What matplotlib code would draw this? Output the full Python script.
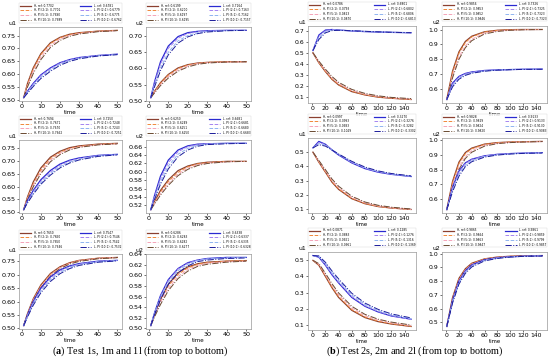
import matplotlib
matplotlib.use("Agg")
import matplotlib.pyplot as plt
from matplotlib.ticker import MultipleLocator

W, H = 550, 363

# time grids
t_a = [1, 3, 6, 10, 15, 20, 25, 30, 40, 50]
t_b = [1, 10, 20, 30, 40, 60, 80, 100, 120, 150]

# curve order in every panel: H ref, H PI(2:1), H PI(5:1), H PI(10:1), L ref, L PI(2:1), L PI(5:1), L PI(10:1)
test1s_u1_labels = ["H, ref: 0.7702", "H, PI (2:1): 0.7701", "H, PI (5:1): 0.7690", "H, PI (10:1): 0.7689",
                    "L, ref: 0.6781", "L, PI (2:1): 0.6779", "L, PI (5:1): 0.6775", "L, PI (10:1): 0.6762"]
test1s_u1 = [
    [0.510, 0.565, 0.625, 0.680, 0.722, 0.743, 0.755, 0.761, 0.767, 0.770],
    [0.510, 0.562, 0.620, 0.676, 0.719, 0.741, 0.754, 0.760, 0.767, 0.770],
    [0.510, 0.556, 0.611, 0.666, 0.711, 0.736, 0.750, 0.758, 0.766, 0.769],
    [0.510, 0.551, 0.603, 0.657, 0.704, 0.731, 0.747, 0.756, 0.765, 0.769],
    [0.510, 0.535, 0.565, 0.598, 0.625, 0.645, 0.657, 0.665, 0.673, 0.678],
    [0.510, 0.533, 0.562, 0.595, 0.622, 0.643, 0.656, 0.664, 0.673, 0.678],
    [0.510, 0.530, 0.557, 0.589, 0.617, 0.639, 0.653, 0.662, 0.672, 0.677],
    [0.510, 0.527, 0.553, 0.584, 0.612, 0.635, 0.650, 0.660, 0.671, 0.676],
]

test1s_u2_labels = ["H, ref: 0.6199", "H, PI (2:1): 0.6200", "H, PI (5:1): 0.6197", "H, PI (10:1): 0.6195",
                    "L, ref: 0.7164", "L, PI (2:1): 0.7163", "L, PI (5:1): 0.7162", "L, PI (10:1): 0.7157"]
test1s_u2 = [
    [0.510, 0.530, 0.556, 0.581, 0.601, 0.611, 0.616, 0.618, 0.620, 0.620],
    [0.510, 0.529, 0.554, 0.579, 0.599, 0.610, 0.615, 0.618, 0.620, 0.620],
    [0.510, 0.527, 0.550, 0.574, 0.595, 0.607, 0.614, 0.617, 0.619, 0.620],
    [0.510, 0.525, 0.547, 0.570, 0.591, 0.604, 0.612, 0.616, 0.619, 0.620],
    [0.510, 0.560, 0.620, 0.668, 0.697, 0.709, 0.713, 0.715, 0.716, 0.716],
    [0.510, 0.556, 0.613, 0.661, 0.692, 0.706, 0.712, 0.714, 0.716, 0.716],
    [0.510, 0.549, 0.601, 0.649, 0.684, 0.700, 0.709, 0.713, 0.715, 0.716],
    [0.510, 0.544, 0.593, 0.641, 0.677, 0.696, 0.706, 0.711, 0.715, 0.716],
]

test1m_u1_labels = ["H, ref: 0.7694", "H, PI (2:1): 0.7671", "H, PI (5:1): 0.7670", "H, PI (10:1): 0.7662",
                    "L, ref: 0.7250", "L, PI (2:1): 0.7248", "L, PI (5:1): 0.7243", "L, PI (10:1): 0.7251"]
test1m_u1 = [
    [0.510, 0.560, 0.618, 0.673, 0.715, 0.738, 0.752, 0.759, 0.766, 0.769],
    [0.510, 0.556, 0.611, 0.665, 0.709, 0.734, 0.749, 0.757, 0.765, 0.768],
    [0.510, 0.552, 0.605, 0.658, 0.703, 0.730, 0.746, 0.755, 0.764, 0.767],
    [0.510, 0.548, 0.599, 0.651, 0.697, 0.725, 0.743, 0.753, 0.763, 0.767],
    [0.510, 0.545, 0.585, 0.627, 0.663, 0.688, 0.703, 0.712, 0.722, 0.726],
    [0.510, 0.542, 0.580, 0.621, 0.657, 0.683, 0.700, 0.710, 0.721, 0.725],
    [0.510, 0.539, 0.575, 0.615, 0.651, 0.678, 0.696, 0.707, 0.720, 0.725],
    [0.510, 0.536, 0.570, 0.609, 0.645, 0.673, 0.692, 0.704, 0.718, 0.724],
]

test1m_u2_labels = ["H, ref: 0.6250", "H, PI (2:1): 0.6249", "H, PI (5:1): 0.6251", "H, PI (10:1): 0.6250",
                    "L, ref: 0.6681", "L, PI (2:1): 0.6681", "L, PI (5:1): 0.6680", "L, PI (10:1): 0.6683"]
test1m_u2 = [
    [0.510, 0.530, 0.556, 0.581, 0.603, 0.614, 0.620, 0.623, 0.625, 0.625],
    [0.510, 0.528, 0.552, 0.577, 0.599, 0.612, 0.619, 0.622, 0.625, 0.625],
    [0.510, 0.526, 0.548, 0.572, 0.595, 0.609, 0.617, 0.621, 0.624, 0.625],
    [0.510, 0.524, 0.545, 0.568, 0.591, 0.606, 0.615, 0.620, 0.624, 0.625],
    [0.510, 0.545, 0.590, 0.628, 0.652, 0.662, 0.666, 0.667, 0.668, 0.668],
    [0.510, 0.542, 0.584, 0.622, 0.648, 0.660, 0.665, 0.667, 0.668, 0.668],
    [0.510, 0.538, 0.577, 0.614, 0.642, 0.656, 0.663, 0.666, 0.668, 0.668],
    [0.510, 0.535, 0.571, 0.607, 0.636, 0.652, 0.661, 0.665, 0.667, 0.668],
]

test1l_u1_labels = ["H, ref: 0.7650", "H, PI (2:1): 0.7650", "H, PI (5:1): 0.7650", "H, PI (10:1): 0.7646",
                    "L, ref: 0.7547", "L, PI (2:1): 0.7546", "L, PI (5:1): 0.7542", "L, PI (10:1): 0.7532"]
test1l_u1 = [
    [0.510, 0.555, 0.610, 0.662, 0.705, 0.730, 0.745, 0.754, 0.762, 0.765],
    [0.510, 0.553, 0.607, 0.659, 0.702, 0.728, 0.744, 0.753, 0.762, 0.765],
    [0.510, 0.551, 0.604, 0.655, 0.699, 0.726, 0.742, 0.752, 0.761, 0.765],
    [0.510, 0.549, 0.600, 0.651, 0.695, 0.723, 0.740, 0.750, 0.760, 0.764],
    [0.510, 0.550, 0.600, 0.650, 0.692, 0.718, 0.733, 0.742, 0.751, 0.754],
    [0.510, 0.548, 0.596, 0.645, 0.687, 0.714, 0.730, 0.740, 0.750, 0.754],
    [0.510, 0.545, 0.591, 0.639, 0.681, 0.709, 0.727, 0.738, 0.749, 0.753],
    [0.510, 0.542, 0.586, 0.633, 0.675, 0.704, 0.723, 0.735, 0.747, 0.752],
]

test1l_u2_labels = ["H, ref: 0.6286", "H, PI (2:1): 0.6283", "H, PI (5:1): 0.6282", "H, PI (10:1): 0.6277",
                    "L, ref: 0.6338", "L, PI (2:1): 0.6337", "L, PI (5:1): 0.6335", "L, PI (10:1): 0.6328"]
test1l_u2 = [
    [0.505, 0.527, 0.555, 0.583, 0.605, 0.616, 0.622, 0.625, 0.627, 0.628],
    [0.505, 0.526, 0.553, 0.580, 0.602, 0.614, 0.621, 0.624, 0.627, 0.628],
    [0.505, 0.524, 0.549, 0.575, 0.598, 0.611, 0.619, 0.623, 0.626, 0.627],
    [0.505, 0.522, 0.545, 0.571, 0.594, 0.608, 0.617, 0.621, 0.625, 0.627],
    [0.505, 0.530, 0.562, 0.592, 0.613, 0.624, 0.629, 0.632, 0.634, 0.634],
    [0.505, 0.529, 0.560, 0.590, 0.612, 0.623, 0.629, 0.631, 0.633, 0.634],
    [0.505, 0.528, 0.558, 0.587, 0.609, 0.621, 0.628, 0.631, 0.633, 0.634],
    [0.505, 0.526, 0.554, 0.583, 0.605, 0.618, 0.626, 0.629, 0.632, 0.633],
]

test2s_u1_labels = ["H, ref: 0.0786", "H, PI (2:1): 0.0793", "H, PI (5:1): 0.0823", "H, PI (10:1): 0.0870",
                    "L, ref: 0.6801", "L, PI (2:1): 0.6802", "L, PI (5:1): 0.6806", "L, PI (10:1): 0.6813"]
test2s_u1 = [
    [0.500, 0.410, 0.330, 0.260, 0.210, 0.150, 0.120, 0.100, 0.090, 0.079],
    [0.500, 0.412, 0.333, 0.264, 0.214, 0.154, 0.122, 0.102, 0.091, 0.079],
    [0.500, 0.418, 0.342, 0.275, 0.224, 0.162, 0.128, 0.107, 0.094, 0.082],
    [0.500, 0.425, 0.352, 0.286, 0.234, 0.170, 0.134, 0.112, 0.098, 0.087],
    [0.520, 0.660, 0.705, 0.710, 0.705, 0.697, 0.691, 0.687, 0.684, 0.681],
    [0.520, 0.650, 0.700, 0.709, 0.706, 0.698, 0.692, 0.688, 0.684, 0.681],
    [0.520, 0.635, 0.690, 0.705, 0.705, 0.699, 0.693, 0.688, 0.685, 0.681],
    [0.520, 0.620, 0.680, 0.700, 0.703, 0.699, 0.694, 0.689, 0.685, 0.681],
]

test2s_u2_labels = ["H, ref: 0.9856", "H, PI (2:1): 0.9853", "H, PI (5:1): 0.9852", "H, PI (10:1): 0.9846",
                    "L, ref: 0.7326", "L, PI (2:1): 0.7325", "L, PI (5:1): 0.7323", "L, PI (10:1): 0.7323"]
test2s_u2 = [
    [0.530, 0.720, 0.850, 0.920, 0.955, 0.985, 0.995, 0.999, 1.000, 1.000],
    [0.530, 0.710, 0.840, 0.912, 0.950, 0.983, 0.994, 0.998, 1.000, 1.000],
    [0.530, 0.690, 0.815, 0.890, 0.935, 0.975, 0.990, 0.996, 0.999, 1.000],
    [0.530, 0.675, 0.800, 0.878, 0.925, 0.970, 0.987, 0.995, 0.998, 1.000],
    [0.530, 0.640, 0.685, 0.705, 0.715, 0.725, 0.729, 0.731, 0.733, 0.734],
    [0.530, 0.632, 0.680, 0.702, 0.713, 0.724, 0.729, 0.731, 0.733, 0.734],
    [0.530, 0.622, 0.672, 0.697, 0.709, 0.722, 0.728, 0.731, 0.733, 0.734],
    [0.530, 0.615, 0.666, 0.692, 0.706, 0.720, 0.727, 0.730, 0.732, 0.733],
]

test2m_u1_labels = ["H, ref: 0.0997", "H, PI (2:1): 0.0993", "H, PI (5:1): 0.0983", "H, PI (10:1): 0.1029",
                    "L, ref: 0.3270", "L, PI (2:1): 0.3276", "L, PI (5:1): 0.3282", "L, PI (10:1): 0.3302"]
test2m_u1 = [
    [0.500, 0.430, 0.360, 0.290, 0.240, 0.175, 0.140, 0.120, 0.110, 0.100],
    [0.500, 0.432, 0.363, 0.294, 0.244, 0.178, 0.142, 0.121, 0.110, 0.099],
    [0.500, 0.437, 0.370, 0.303, 0.253, 0.185, 0.147, 0.125, 0.112, 0.100],
    [0.500, 0.442, 0.378, 0.312, 0.262, 0.192, 0.152, 0.129, 0.116, 0.103],
    [0.530, 0.575, 0.555, 0.515, 0.480, 0.425, 0.385, 0.360, 0.345, 0.330],
    [0.530, 0.568, 0.553, 0.517, 0.483, 0.428, 0.388, 0.362, 0.346, 0.331],
    [0.530, 0.560, 0.548, 0.517, 0.486, 0.432, 0.392, 0.365, 0.348, 0.332],
    [0.530, 0.552, 0.542, 0.515, 0.487, 0.436, 0.396, 0.369, 0.351, 0.334],
]

test2m_u2_labels = ["H, ref: 0.9828", "H, PI (2:1): 0.9829", "H, PI (5:1): 0.9824", "H, PI (10:1): 0.9820",
                    "L, ref: 0.9133", "L, PI (2:1): 0.9133", "L, PI (5:1): 0.9130", "L, PI (10:1): 0.9083"]
test2m_u2 = [
    [0.530, 0.720, 0.850, 0.915, 0.945, 0.972, 0.982, 0.986, 0.988, 0.990],
    [0.530, 0.710, 0.840, 0.907, 0.940, 0.970, 0.981, 0.986, 0.988, 0.990],
    [0.530, 0.690, 0.815, 0.888, 0.927, 0.964, 0.978, 0.984, 0.987, 0.989],
    [0.530, 0.675, 0.800, 0.875, 0.917, 0.958, 0.975, 0.982, 0.986, 0.989],
    [0.530, 0.680, 0.790, 0.845, 0.870, 0.893, 0.903, 0.908, 0.911, 0.914],
    [0.530, 0.672, 0.782, 0.840, 0.867, 0.892, 0.902, 0.908, 0.911, 0.914],
    [0.530, 0.660, 0.768, 0.830, 0.860, 0.888, 0.900, 0.906, 0.910, 0.913],
    [0.530, 0.650, 0.755, 0.820, 0.853, 0.884, 0.898, 0.905, 0.909, 0.912],
]

test2l_u1_labels = ["H, ref: 0.0871", "H, PI (2:1): 0.0883", "H, PI (5:1): 0.0921", "H, PI (10:1): 0.0961",
                    "L, ref: 0.1285", "L, PI (2:1): 0.1276", "L, PI (5:1): 0.1316", "L, PI (10:1): 0.1369"]
test2l_u1 = [
    [0.500, 0.470, 0.400, 0.330, 0.270, 0.190, 0.145, 0.120, 0.105, 0.090],
    [0.500, 0.472, 0.404, 0.335, 0.276, 0.195, 0.149, 0.123, 0.107, 0.091],
    [0.500, 0.476, 0.412, 0.345, 0.287, 0.205, 0.157, 0.129, 0.112, 0.095],
    [0.500, 0.480, 0.420, 0.355, 0.298, 0.215, 0.165, 0.135, 0.117, 0.099],
    [0.530, 0.520, 0.470, 0.410, 0.360, 0.270, 0.215, 0.180, 0.155, 0.135],
    [0.530, 0.522, 0.474, 0.415, 0.365, 0.276, 0.219, 0.183, 0.157, 0.134],
    [0.530, 0.525, 0.481, 0.424, 0.375, 0.286, 0.227, 0.189, 0.162, 0.138],
    [0.530, 0.528, 0.488, 0.434, 0.385, 0.296, 0.235, 0.196, 0.168, 0.143],
]

test2l_u2_labels = ["H, ref: 0.9865", "H, PI (2:1): 0.9864", "H, PI (5:1): 0.9863", "H, PI (10:1): 0.9847",
                    "L, ref: 0.9861", "L, PI (2:1): 0.9859", "L, PI (5:1): 0.9799", "L, PI (10:1): 0.9857"]
test2l_u2 = [
    [0.470, 0.680, 0.820, 0.890, 0.930, 0.962, 0.975, 0.981, 0.984, 0.986],
    [0.470, 0.675, 0.815, 0.886, 0.927, 0.961, 0.974, 0.981, 0.984, 0.986],
    [0.470, 0.668, 0.806, 0.879, 0.922, 0.958, 0.973, 0.980, 0.984, 0.986],
    [0.470, 0.660, 0.798, 0.872, 0.916, 0.955, 0.971, 0.979, 0.983, 0.985],
    [0.470, 0.660, 0.800, 0.875, 0.918, 0.955, 0.970, 0.977, 0.981, 0.984],
    [0.470, 0.655, 0.794, 0.870, 0.914, 0.953, 0.969, 0.977, 0.981, 0.984],
    [0.470, 0.648, 0.786, 0.863, 0.909, 0.950, 0.967, 0.976, 0.980, 0.984],
    [0.470, 0.640, 0.778, 0.856, 0.903, 0.947, 0.965, 0.975, 0.980, 0.983],
]

COLORS = ["#8b4030", "#f0883a", "#f4a3b8", "#6a4a30", "#2a2ad0", "#a585f0", "#8fb4f0", "#1c1c9a"]
STYLES = ["-", "--", "--", "-.", "-", "--", "--", "-."]
WIDTHS = [0.9, 0.7, 0.7, 0.7, 0.9, 0.7, 0.7, 0.7]


def add_px_axes(fig, x0, y0, x1, y1):
    return fig.add_axes([x0 / W, 1 - y1 / H, (x1 - x0) / W, (y1 - y0) / H])


def draw_panel(ax, t, curves, labels, ylab, ystep, xstep, fs):
    for vals, lab, c, ls, lw in zip(curves, labels, COLORS, STYLES, WIDTHS):
        ax.plot(t, vals, color=c, linestyle=ls, linewidth=lw, label=lab)
    ax.xaxis.set_major_locator(MultipleLocator(xstep))
    ax.yaxis.set_major_locator(MultipleLocator(ystep))
    ax.tick_params(labelsize=fs, length=1.5, width=0.4, pad=1.0)
    for sp in ax.spines.values():
        sp.set_color("#999999")
        sp.set_linewidth(0.5)
    ax.set_xlabel("time", fontsize=fs - 0.5, labelpad=0.3)
    ax.text(-0.02, 1.01, ylab, transform=ax.transAxes, ha="right", va="bottom", fontsize=fs)
    leg = ax.legend(loc="lower left", bbox_to_anchor=(0.0, 1.06, 1.0, 0.2), mode="expand", ncol=2,
                    fontsize=2.1, handlelength=4, handleheight=0.4, frameon=True, borderpad=0.25,
                    labelspacing=0.25, borderaxespad=0.0, edgecolor="#cccccc", fancybox=False)
    leg.get_frame().set_linewidth(0.3)


plt.rcParams["mathtext.fontset"] = "custom"
plt.rcParams["mathtext.rm"] = "Liberation Serif"
plt.rcParams["mathtext.bf"] = "Liberation Serif:bold"

fig = plt.figure(figsize=(W / 100, H / 100), dpi=100)

left_cols = [(19, 122), (146, 251)]
left_rows = [(27, 101), (140, 213), (254, 329)]
right_cols = [(308, 416), (442, 547)]
right_rows = [(26, 103), (138, 213), (252, 330)]

left_panels = [
    (test1s_u1, test1s_u1_labels, "u1", 0.05), (test1s_u2, test1s_u2_labels, "u2", 0.05),
    (test1m_u1, test1m_u1_labels, "u1", 0.05), (test1m_u2, test1m_u2_labels, "u2", 0.02),
    (test1l_u1, test1l_u1_labels, "u1", 0.05), (test1l_u2, test1l_u2_labels, "u2", 0.02),
]
right_panels = [
    (test2s_u1, test2s_u1_labels, "u1", 0.1), (test2s_u2, test2s_u2_labels, "u2", 0.1),
    (test2m_u1, test2m_u1_labels, "u1", 0.1), (test2m_u2, test2m_u2_labels, "u2", 0.1),
    (test2l_u1, test2l_u1_labels, "u1", 0.1), (test2l_u2, test2l_u2_labels, "u2", 0.1),
]

for i, (curves, labels, ylab, ystep) in enumerate(left_panels):
    (x0, x1), (y0, y1) = left_cols[i % 2], left_rows[i // 2]
    ax = add_px_axes(fig, x0, y0, x1, y1)
    draw_panel(ax, t_a, curves, labels, ylab, ystep, 10, 4.6)

for i, (curves, labels, ylab, ystep) in enumerate(right_panels):
    (x0, x1), (y0, y1) = right_cols[i % 2], right_rows[i // 2]
    ax = add_px_axes(fig, x0, y0, x1, y1)
    draw_panel(ax, t_b, curves, labels, ylab, ystep, 20, 4.4)

fig.text(140 / W, 1 - 351 / H, r"($\mathbf{a}$) Test 1s, 1m and 1l (from top to bottom)",
         ha="center", va="center", fontsize=7.3, family="Liberation Serif")
fig.text(415 / W, 1 - 351 / H, r"($\mathbf{b}$) Test 2s, 2m and 2l (from top to bottom)",
         ha="center", va="center", fontsize=7.3, family="Liberation Serif")

fig.savefig("out.png", dpi=100)
